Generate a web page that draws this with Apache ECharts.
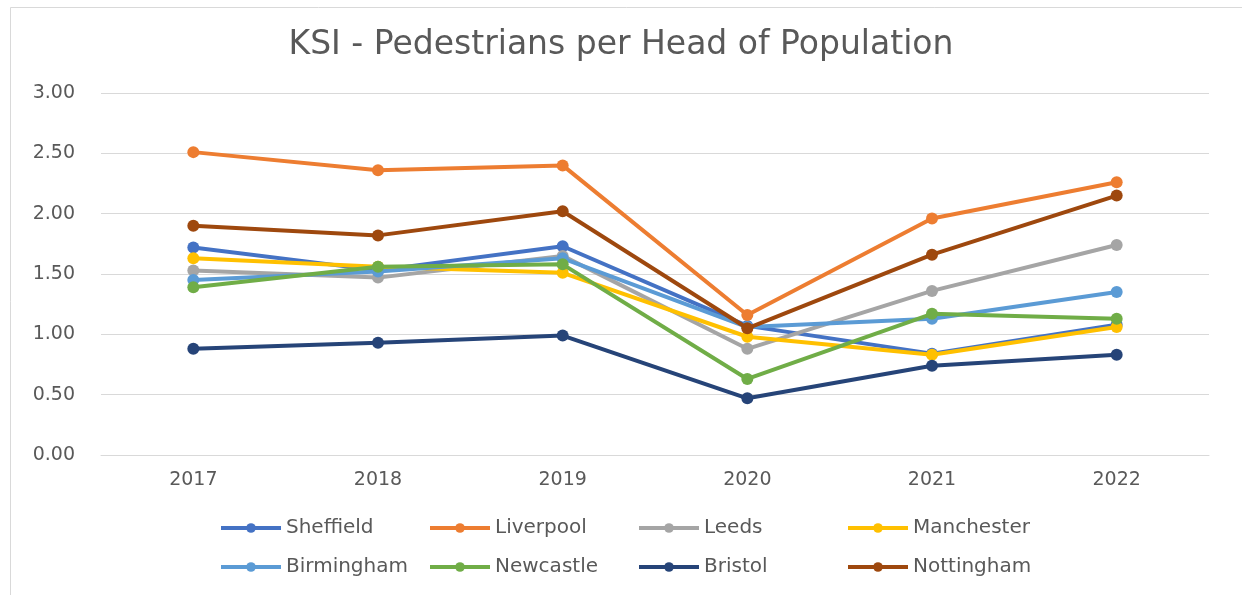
<!DOCTYPE html>
<html>
<head>
<meta charset="utf-8">
<script src="https://cdn.jsdelivr.net/npm/echarts@6/dist/echarts.min.js"></script>
<style>
  html, body { margin: 0; padding: 0; background: #ffffff; }
  #chart { width: 1242px; height: 595px; }
</style>
</head>
<body>
<div id="chart"></div>
<script>
const years = ['2017', '2018', '2019', '2020', '2021', '2022'];
const sheffield  = [1.72, 1.53, 1.73, 1.07, 0.84, 1.08];
const liverpool  = [2.51, 2.36, 2.40, 1.16, 1.96, 2.26];
const leeds      = [1.53, 1.47, 1.65, 0.88, 1.36, 1.74];
const manchester = [1.63, 1.56, 1.51, 0.98, 0.83, 1.06];
const birmingham = [1.45, 1.52, 1.63, 1.06, 1.13, 1.35];
const newcastle  = [1.39, 1.56, 1.58, 0.63, 1.17, 1.13];
const bristol    = [0.88, 0.93, 0.99, 0.47, 0.74, 0.83];
const nottingham = [1.90, 1.82, 2.02, 1.05, 1.66, 2.15];
const yTicks = ['0.00', '0.50', '1.00', '1.50', '2.00', '2.50', '3.00'];

const names = ['Sheffield', 'Liverpool', 'Leeds', 'Manchester', 'Birmingham', 'Newcastle', 'Bristol', 'Nottingham'];
const values = [sheffield, liverpool, leeds, manchester, birmingham, newcastle, bristol, nottingham];
const colors = ['#4472C4', '#ED7D31', '#A5A5A5', '#FFC000', '#5B9BD5', '#70AD47', '#264478', '#9E480E'];

const chart = echarts.init(document.getElementById('chart'));
const FONT = 'DejaVu Sans';
const legendText = { color: '#595959', fontFamily: FONT, fontSize: 20, width: 140, lineHeight: 24 };
const legendCommon = {
  left: 219, padding: 0, orient: 'horizontal',
  itemWidth: 60, itemHeight: 12, itemGap: 2,
  lineStyle: { width: 4 },
  textStyle: legendText
};

chart.setOption({
  backgroundColor: '#ffffff',
  animation: false,
  title: {
    text: 'KSI - Pedestrians per Head of Population',
    left: 'center',
    top: 29,
    padding: 0,
    textStyle: { color: '#595959', fontFamily: FONT, fontSize: 33, fontWeight: 'normal' }
  },
  graphic: [{
    type: 'rect',
    shape: { x: 10.5, y: 7.5, width: 1240, height: 600 },
    style: { fill: 'none', stroke: '#d9d9d9', lineWidth: 1 },
    silent: true
  }],
  legend: [
    Object.assign({ data: names.slice(0, 4), top: 516 }, legendCommon),
    Object.assign({ data: names.slice(4), top: 555 }, legendCommon)
  ],
  grid: { left: 101, right: 33, top: 93, bottom: 140, containLabel: false },
  xAxis: {
    type: 'category',
    data: years,
    boundaryGap: true,
    axisLine: { show: true, lineStyle: { color: '#d9d9d9', width: 1 } },
    axisTick: { show: false },
    axisLabel: { color: '#595959', fontFamily: FONT, fontSize: 19, margin: 16 }
  },
  yAxis: {
    type: 'value',
    min: 0, max: 3, interval: 0.5,
    axisLine: { show: false },
    axisTick: { show: false },
    splitLine: { lineStyle: { color: '#d9d9d9', width: 1 } },
    axisLabel: {
      color: '#595959', fontFamily: FONT, fontSize: 19, margin: 26,
      formatter: v => yTicks[Math.round(v / 0.5)]
    }
  },
  series: names.map((n, i) => ({
    name: n,
    type: 'line',
    data: values[i],
    symbol: 'circle',
    symbolSize: 12,
    lineStyle: { width: 4, color: colors[i] },
    itemStyle: { color: colors[i] },
    z: 2 + i
  }))
});
</script>
</body>
</html>
